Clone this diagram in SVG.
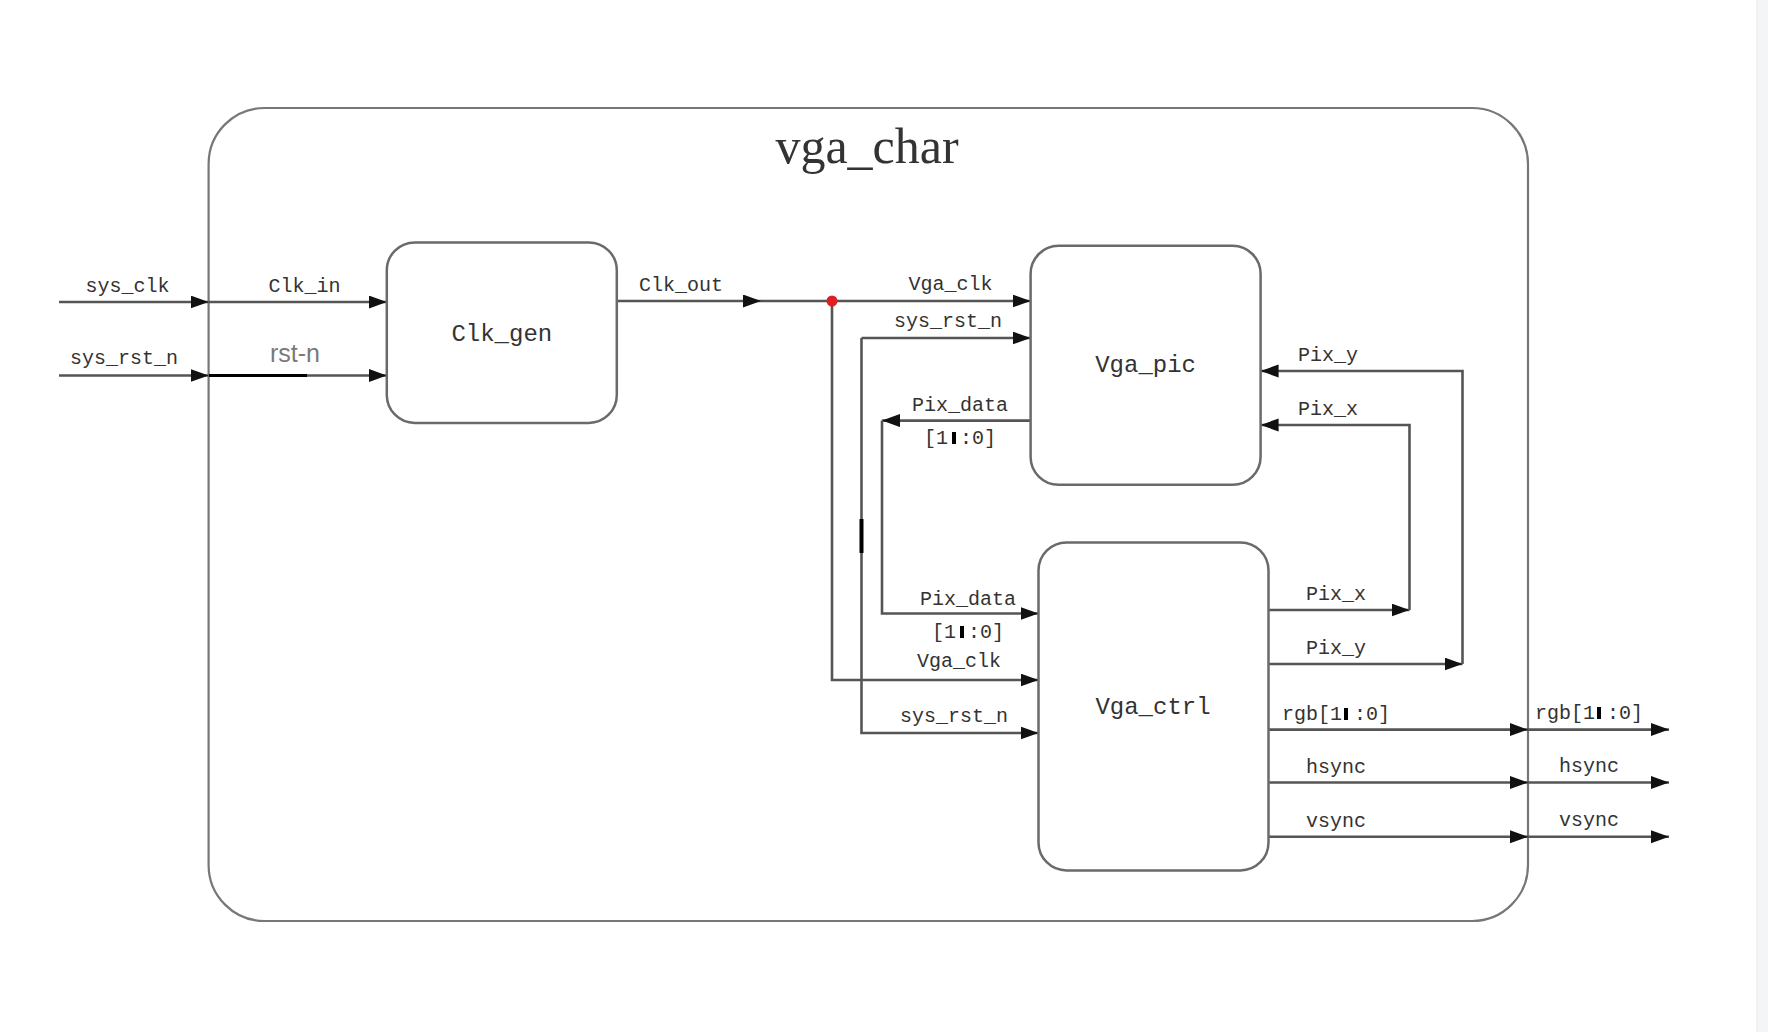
<svg xmlns="http://www.w3.org/2000/svg" width="1768" height="1032" viewBox="0 0 1768 1032">
<style>
.box{fill:#fff;stroke:#6a6a6a;stroke-width:2.5}
.outer{fill:none;stroke:#777;stroke-width:2.2}
.wire{fill:none;stroke:#555;stroke-width:2.6}
.arr{marker-end:url(#ah)}
.lbl{font-family:"Liberation Mono",monospace;font-size:20px;fill:#333;text-anchor:middle}
.node{font-family:"Liberation Mono",monospace;font-size:24px;fill:#333;text-anchor:middle}
.bar{fill:#000}
</style>
<defs>
<marker id="ah" markerUnits="userSpaceOnUse" markerWidth="19" markerHeight="14" refX="18" refY="6.5" orient="auto">
<path d="M0,0 L18,6.5 L0,13 z" fill="#111"/>
</marker>
</defs>
<rect width="1768" height="1032" fill="#fff"/>
<rect x="1757" y="0" width="11" height="1032" fill="#f4f5f7"/>
<line x1="1757" y1="0" x2="1757" y2="1032" stroke="#e6e7ea" stroke-width="1"/>

<g id="vga_char">
<rect class="outer" x="208.6" y="108" width="1319.4" height="813" rx="56" ry="56"/>
<text x="867" y="163" font-family="Liberation Serif,serif" font-size="50" fill="#333" text-anchor="middle">vga_char</text>
</g>

<g id="connectors">
<path class="wire arr" d="M59,302 H208.6"/>
<path class="wire arr" d="M209,302 H386.8"/>
<path class="wire arr" d="M59,375.5 H208.6"/>
<path class="wire arr" d="M209,375.5 H386.8"/>
<line x1="209" y1="375.5" x2="307" y2="375.5" stroke="#000" stroke-width="3"/>
<path class="wire arr" d="M616.8,301 H761"/>
<path class="wire arr" d="M761,301 H1030.6"/>
<path class="wire arr" d="M832,301 V680 H1038.5"/>
<path class="wire arr" d="M861.5,338 H1030.6"/>
<path class="wire arr" d="M861.5,338 V733 H1038.5"/>
<line x1="861.5" y1="519" x2="861.5" y2="553" stroke="#000" stroke-width="4"/>
<path class="wire arr" d="M1030.6,420.6 H882"/>
<path class="wire arr" d="M882,420.6 V613.5 H1038.5"/>
<path class="wire arr" d="M1268.6,610 H1409.5"/>
<path class="wire arr" d="M1409.5,610 V425 H1260.6"/>
<path class="wire arr" d="M1268.6,664 H1462.5"/>
<path class="wire arr" d="M1462.5,664 V371 H1260.6"/>
<path class="wire arr" d="M1268.6,729.6 H1528"/>
<path class="wire arr" d="M1528,729.6 H1669"/>
<path class="wire arr" d="M1268.6,782.5 H1528"/>
<path class="wire arr" d="M1528,782.5 H1669"/>
<path class="wire arr" d="M1268.6,836.7 H1528"/>
<path class="wire arr" d="M1528,836.7 H1669"/>
<circle cx="832" cy="301" r="5.5" fill="#e02020"/>

<text class="lbl" x="127.4" y="292">sys_clk</text>
<text class="lbl" x="304.5" y="292">Clk_in</text>
<text class="lbl" x="124" y="364">sys_rst_n</text>
<text x="295" y="362" font-family="Liberation Sans,Arial,sans-serif" font-size="25" fill="#7a7a7a" text-anchor="middle">rst-n</text>
<text class="lbl" x="681" y="291">Clk_out</text>
<text class="lbl" x="950.6" y="290">Vga_clk</text>
<text class="lbl" x="948" y="327">sys_rst_n</text>
<text class="lbl" x="960" y="411">Pix_data</text>
<text class="lbl" x="924" y="444" style="text-anchor:start">[1<tspan fill-opacity="0">1</tspan>:0]</text>
<rect class="bar" x="952" y="432" width="4" height="12"/>
<text class="lbl" x="968" y="605">Pix_data</text>
<text class="lbl" x="932" y="638" style="text-anchor:start">[1<tspan fill-opacity="0">1</tspan>:0]</text>
<rect class="bar" x="960" y="626" width="4" height="12"/>
<text class="lbl" x="959" y="667">Vga_clk</text>
<text class="lbl" x="954" y="722">sys_rst_n</text>
<text class="lbl" x="1328" y="361">Pix_y</text>
<text class="lbl" x="1328" y="415">Pix_x</text>
<text class="lbl" x="1336" y="600">Pix_x</text>
<text class="lbl" x="1336" y="654">Pix_y</text>
<text class="lbl" x="1282" y="720" style="text-anchor:start">rgb[1<tspan fill-opacity="0">1</tspan>:0]</text>
<rect class="bar" x="1344" y="708" width="4" height="12"/>
<text class="lbl" x="1535" y="719" style="text-anchor:start">rgb[1<tspan fill-opacity="0">1</tspan>:0]</text>
<rect class="bar" x="1597" y="707" width="4" height="12"/>
<text class="lbl" x="1336" y="773">hsync</text>
<text class="lbl" x="1589" y="772">hsync</text>
<text class="lbl" x="1336" y="827">vsync</text>
<text class="lbl" x="1589" y="826">vsync</text>
</g>

<g id="clk_gen">
<rect class="box" x="386.8" y="242.4" width="230" height="180.5" rx="28" ry="28"/>
<text class="node" x="501.8" y="341">Clk_gen</text>
</g>
<g id="vga_pic">
<rect class="box" x="1030.6" y="245.8" width="230" height="239" rx="28" ry="28"/>
<text class="node" x="1145.6" y="372">Vga_pic</text>
</g>
<g id="vga_ctrl">
<rect class="box" x="1038.5" y="542.4" width="230" height="328" rx="28" ry="28"/>
<text class="node" x="1153" y="714">Vga_ctrl</text>
</g>
</svg>
